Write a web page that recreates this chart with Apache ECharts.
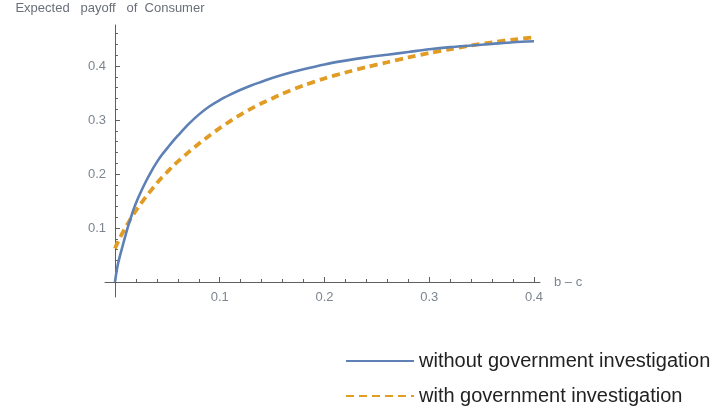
<!DOCTYPE html>
<html>
<head>
<meta charset="utf-8">
<script src="https://cdn.jsdelivr.net/npm/echarts@6/dist/echarts.min.js"></script>
<style>html,body{margin:0;padding:0;background:#fff}#c{width:715px;height:417px}</style>
</head>
<body>
<div id="c"></div>
<script>
const xValues = [0, 0.0025, 0.005, 0.0075, 0.01, 0.0125, 0.015, 0.0175, 0.02, 0.025, 0.03, 0.035, 0.04, 0.045, 0.05, 0.055, 0.06, 0.07, 0.08, 0.09, 0.1, 0.11, 0.12, 0.13, 0.14, 0.15, 0.16, 0.18, 0.2, 0.22, 0.24, 0.26, 0.28, 0.3, 0.32, 0.34, 0.36, 0.38, 0.4];
const withoutInvestigation = [0, 0.03, 0.05, 0.068, 0.086, 0.103, 0.118, 0.133, 0.146, 0.168, 0.188, 0.206, 0.222, 0.236, 0.248, 0.26, 0.271, 0.292, 0.31, 0.325, 0.337, 0.347, 0.356, 0.364, 0.371, 0.378, 0.384, 0.394, 0.403, 0.41, 0.416, 0.421, 0.426, 0.431, 0.435, 0.438, 0.441, 0.444, 0.446];
const withInvestigation = [0.062, 0.073, 0.083, 0.092, 0.101, 0.109, 0.117, 0.125, 0.132, 0.146, 0.159, 0.171, 0.183, 0.194, 0.204, 0.214, 0.223, 0.24, 0.256, 0.271, 0.285, 0.298, 0.31, 0.321, 0.331, 0.34, 0.349, 0.364, 0.377, 0.388, 0.398, 0.407, 0.416, 0.424, 0.431, 0.438, 0.444, 0.449, 0.453];
const xMajorTicks = [0.1, 0.2, 0.3, 0.4];
const xMinorTicks = [0.02, 0.04, 0.06, 0.08, 0.12, 0.14, 0.16, 0.18, 0.22, 0.24, 0.26, 0.28, 0.32, 0.34, 0.36, 0.38];
const yMajorTicks = [0.1, 0.2, 0.3, 0.4];
const yMinorTicks = [0.02, 0.04, 0.06, 0.08, 0.12, 0.14, 0.16, 0.18, 0.22, 0.24, 0.26, 0.28, 0.32, 0.34, 0.36, 0.38, 0.42, 0.44, 0.46];
const seriesNames = ['without government investigation', 'with government investigation'];
const yTitle = 'Expected   payoff   of  Consumer';
const xTitle = 'b \u2013 c';

const blue = '#5E81B5', orange = '#E19C24';
const axisColor = '#5f5f5f';
const labelColor = '#7d8590';
const font = '"Liberation Sans", Arial, sans-serif';

const chart = echarts.init(document.getElementById('c'), null, {renderer: 'canvas'});
const xMin = -0.0095, xMax = 0.4057, yMin = -0.0278, yMax = 0.476;

function xAxisDef(major) {
  return {
    type: 'value', min: xMin, max: xMax, position: 'bottom',
    name: major ? xTitle : '', nameLocation: 'end', nameGap: 14,
    nameTextStyle: {color: labelColor, fontSize: 13, fontFamily: font, verticalAlign: 'middle'},
    axisLine: {show: major, onZero: true, onZeroAxisIndex: 0, lineStyle: {color: axisColor, width: 1}},
    axisTick: {show: true, inside: true, length: major ? 5 : 3, customValues: major ? xMajorTicks : xMinorTicks, lineStyle: {color: axisColor}},
    axisLabel: {show: major, customValues: xMajorTicks, margin: -6, color: labelColor, fontSize: 13, fontFamily: font,
      formatter: v => String(v)},
    splitLine: {show: false}
  };
}
function yAxisDef(major) {
  return {
    type: 'value', min: yMin, max: yMax, position: 'left',
    name: major ? yTitle : '', nameLocation: 'end', nameGap: 10,
    nameTextStyle: {color: '#6a6f78', fontSize: 13, fontFamily: font, align: 'center', padding: [0, 10, 0, 0]},
    axisLine: {show: major, onZero: true, onZeroAxisIndex: 0, lineStyle: {color: axisColor, width: 1}},
    axisTick: {show: true, inside: true, length: major ? 5 : 3, customValues: major ? yMajorTicks : yMinorTicks, lineStyle: {color: axisColor}},
    axisLabel: {show: major, customValues: yMajorTicks, margin: -1, color: labelColor, fontSize: 13, fontFamily: font,
      formatter: v => String(v)},
    splitLine: {show: false}
  };
}

chart.setOption({
  animation: false,
  backgroundColor: '#fff',
  grid: {left: 105, top: 25, width: 435, height: 272, containLabel: false},
  xAxis: [xAxisDef(true), xAxisDef(false)],
  yAxis: [yAxisDef(true), yAxisDef(false)],
  legend: {
    orient: 'vertical', left: 340, top: 346,
    itemWidth: 68, itemHeight: 20, itemGap: 15,
    itemStyle: {opacity: 0},
    textStyle: {color: '#222', fontSize: 20, fontFamily: font},
    data: seriesNames
  },
  series: [
    {
      name: seriesNames[0], type: 'line', symbol: 'none', smooth: 0.3,
      data: xValues.map((x, i) => [x, withoutInvestigation[i]]),
      lineStyle: {color: blue, width: 2.6}, itemStyle: {color: blue}, z: 3
    },
    {
      name: seriesNames[1], type: 'line', symbol: 'none', smooth: 0.3,
      data: xValues.map((x, i) => [x, withInvestigation[i]]),
      lineStyle: {color: orange, width: 3.8, type: [8, 5]}, itemStyle: {color: orange}, z: 2
    }
  ]
});
</script>
</body>
</html>
